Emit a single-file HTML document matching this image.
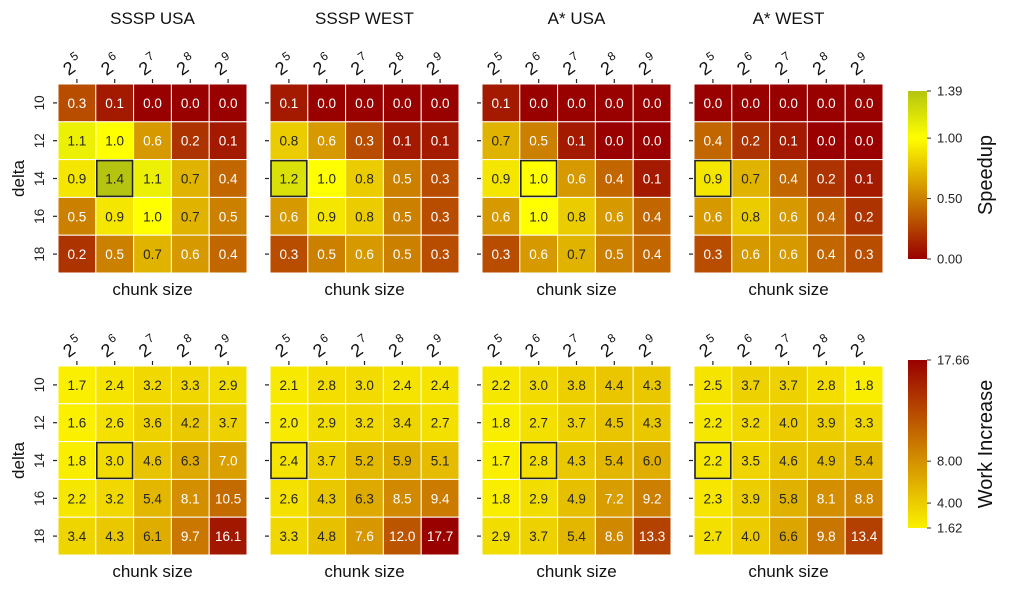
<!DOCTYPE html>
<html><head><meta charset="utf-8"><style>
html,body{margin:0;padding:0;background:#fff;}
svg{display:block;font-family:"Liberation Sans","DejaVu Sans",sans-serif;}
</style></head><body>
<svg id="chart" width="1012" height="589" viewBox="0 0 1012 589" xmlns="http://www.w3.org/2000/svg"></svg>
<script>
const titles = ["SSSP USA", "SSSP WEST", "A* USA", "A* WEST"];
const chunkExps = ["5", "6", "7", "8", "9"];
const deltas = ["10", "12", "14", "16", "18"];
const speedupSSSPUSA = [[0.3,0.1,0.0,0.0,0.0],[1.1,1.0,0.6,0.2,0.1],[0.9,1.4,1.1,0.7,0.4],[0.5,0.9,1.0,0.7,0.5],[0.2,0.5,0.7,0.6,0.4]];
const speedupSSSPWEST = [[0.1,0.0,0.0,0.0,0.0],[0.8,0.6,0.3,0.1,0.1],[1.2,1.0,0.8,0.5,0.3],[0.6,0.9,0.8,0.5,0.3],[0.3,0.5,0.6,0.5,0.3]];
const speedupAUSA = [[0.1,0.0,0.0,0.0,0.0],[0.7,0.5,0.1,0.0,0.0],[0.9,1.0,0.6,0.4,0.1],[0.6,1.0,0.8,0.6,0.4],[0.3,0.6,0.7,0.5,0.4]];
const speedupAWEST = [[0.0,0.0,0.0,0.0,0.0],[0.4,0.2,0.1,0.0,0.0],[0.9,0.7,0.4,0.2,0.1],[0.6,0.8,0.6,0.4,0.2],[0.3,0.6,0.6,0.4,0.3]];
const workSSSPUSA = [[1.7,2.4,3.2,3.3,2.9],[1.6,2.6,3.6,4.2,3.7],[1.8,3.0,4.6,6.3,7.0],[2.2,3.2,5.4,8.1,10.5],[3.4,4.3,6.1,9.7,16.1]];
const workSSSPWEST = [[2.1,2.8,3.0,2.4,2.4],[2.0,2.9,3.2,3.4,2.7],[2.4,3.7,5.2,5.9,5.1],[2.6,4.3,6.3,8.5,9.4],[3.3,4.8,7.6,12.0,17.7]];
const workAUSA = [[2.2,3.0,3.8,4.4,4.3],[1.8,2.7,3.7,4.5,4.3],[1.7,2.8,4.3,5.4,6.0],[1.8,2.9,4.9,7.2,9.2],[2.9,3.7,5.4,8.6,13.3]];
const workAWEST = [[2.5,3.7,3.7,2.8,1.8],[2.2,3.2,4.0,3.9,3.3],[2.2,3.5,4.6,4.9,5.4],[2.3,3.9,5.8,8.1,8.8],[2.7,4.0,6.6,9.8,13.4]];
const bestSpeedupCell = [[2,1],[2,0],[2,1],[2,0]];
const speedupTicks = [0.00, 0.50, 1.00, 1.39];
const workTicks = [1.62, 4.00, 8.00, 17.66];
const speedupRange = [0, 1.39];
const workRange = [1.62, 17.66];

const NS = "http://www.w3.org/2000/svg";
const svg = document.getElementById("chart");
function mk(tag, attrs, parent){const e=document.createElementNS(NS,tag);for(const k in attrs)e.setAttribute(k,attrs[k]);(parent||svg).appendChild(e);return e;}
function lerp(a,b,t){return [0,1,2].map(i=>Math.round(a[i]+(b[i]-a[i])*t));}
function speedColor(v){
  if(v<=1){return lerp([153,0,0],[255,255,0],Math.max(0,v));}
  return lerp([255,255,0],[180,196,16],Math.min(1,(v-1)/0.39));
}
function workColor(v){
  const t=Math.max(0,Math.min(1,(v-workRange[0])/(workRange[1]-workRange[0])));
  return lerp([250,240,0],[153,0,0],t);
}
function rgb(c){return `rgb(${c[0]},${c[1]},${c[2]})`;}
function lum(c){const f=x=>{x/=255;return x<=0.03928?x/12.92:Math.pow((x+0.055)/1.055,2.4);};return 0.2126*f(c[0])+0.7152*f(c[1])+0.0722*f(c[2]);}

const panelX = [58, 270, 482, 694];
const rowY = [84, 366];
const cw = 37.8, ch = 37.8;
const speedData = [speedupSSSPUSA, speedupSSSPWEST, speedupAUSA, speedupAWEST];
const workData = [workSSSPUSA, workSSSPWEST, workAUSA, workAWEST];

titles.forEach((t,p)=>{
  const e=mk("text",{x:panelX[p]+cw*2.5,y:24,"text-anchor":"middle","font-size":17,fill:"#111"});
  e.textContent=t;
  
  
});

[0,1].forEach(r=>{
  const datas = r===0?speedData:workData;
  const cf = r===0?speedColor:workColor;
  for(let p=0;p<4;p++){
    const x0=panelX[p], y0=rowY[r];
    const g=mk("g",{});
    
    
    const d=datas[p];
    d.forEach((row,i)=>row.forEach((v,j)=>{
      const c=cf(v);
      const rc=mk("rect",{x:x0+j*cw,y:y0+i*ch,width:cw,height:ch,fill:rgb(c),stroke:"#fff","stroke-width":1},g);
      
      
      const tx=mk("text",{x:x0+j*cw+cw/2,y:y0+i*ch+ch/2+5,"text-anchor":"middle","font-size":13.5,fill:lum(c)>0.408?"#262626":"#fff"},g);
      tx.textContent=v.toFixed(1);
      
      
    }));
    const b=bestSpeedupCell[p];
    const hb=mk("rect",{x:x0+b[1]*cw+1,y:y0+b[0]*ch+1,width:cw-2,height:ch-2,fill:"none",stroke:"#222","stroke-width":1.6},g);
    
    
    chunkExps.forEach((ex,j)=>{
      const cx=x0+j*cw+cw/2;
      mk("line",{x1:cx,y1:y0-5,x2:cx,y2:y0-1,stroke:"#222","stroke-width":1.2},g);
      const lg=mk("g",{transform:`translate(${cx-1},${y0-13}) rotate(-35)`},g);
      
      
      const t1=mk("text",{x:-4,y:0,"text-anchor":"middle","font-size":18,fill:"#111"},lg);
      t1.textContent="2";
      const t2=mk("text",{x:7,y:-9,"text-anchor":"middle","font-size":12,fill:"#111"},lg);
      t2.textContent=ex;
    });
    deltas.forEach((dl,i)=>{
      const cy=y0+i*ch+ch/2;
      mk("line",{x1:x0-5,y1:cy,x2:x0-1,y2:cy,stroke:"#222","stroke-width":1.2},g);
      if(p===0){
        const tx=mk("text",{x:0,y:0,"text-anchor":"middle","font-size":13.5,fill:"#222",transform:`translate(${x0-14},${cy}) rotate(-90)`},g);
        tx.textContent=dl;
        
        
      }
    });
    const xl=mk("text",{x:x0+cw*2.5,y:y0+ch*5+22,"text-anchor":"middle","font-size":17,fill:"#111"},g);
    xl.textContent="chunk size";
    
    
    if(p===0){
      const yl=mk("text",{x:0,y:0,"text-anchor":"middle","font-size":17,fill:"#111",transform:`translate(24,${y0+ch*2.5}) rotate(-90)`},g);
      yl.textContent="delta";
      
      
    }
  }
});

function colorbar(top,bot,range,ticks,cf,label,id,name){
  const defs=mk("defs",{});
  const lg=mk("linearGradient",{id:id,x1:0,y1:1,x2:0,y2:0},defs);
  for(let k=0;k<=40;k++){const v=range[0]+(range[1]-range[0])*k/40;mk("stop",{offset:k/40,"stop-color":rgb(cf(v))},lg);}
  const g=mk("g",{});
  
  
  mk("rect",{x:908,y:top,width:19,height:bot-top,fill:`url(#${id})`},g);
  const ys=v=>bot-(v-range[0])/(range[1]-range[0])*(bot-top);
  ticks.forEach(t=>{
    const y=ys(t);
    mk("line",{x1:927,y1:y,x2:931,y2:y,stroke:"#333"},g);
    const tx=mk("text",{x:937,y:y+4.5,"font-size":13,fill:"#222"},g);
    tx.textContent=t.toFixed(2);
    
    
  });
  const lb=mk("text",{x:0,y:0,"text-anchor":"middle","font-size":20,fill:"#111",transform:`translate(992,${(top+bot)/2}) rotate(-90)`},g);
  lb.textContent=label;
  
  
}
colorbar(91,259,speedupRange,speedupTicks,speedColor,"Speedup","gs","speedup-colorbar");
colorbar(360,528,workRange,workTicks,workColor,"Work Increase","gw","work-colorbar");
</script>
</body></html>
